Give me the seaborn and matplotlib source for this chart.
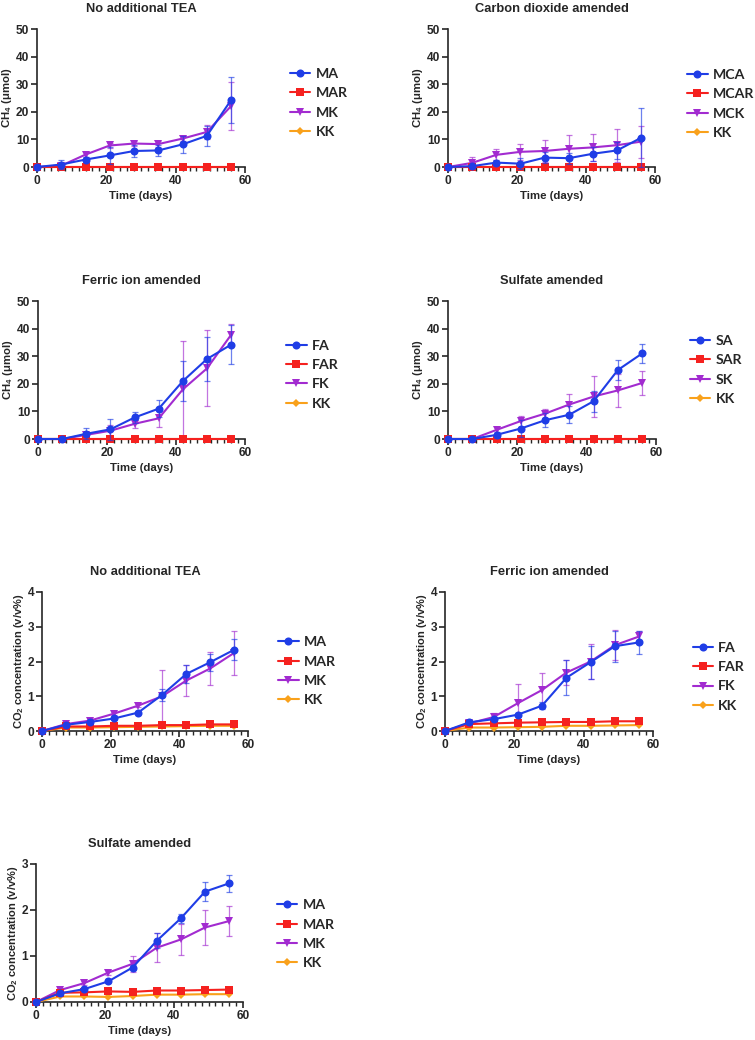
import numpy as np
import pandas as pd
import matplotlib
matplotlib.use("Agg")
import matplotlib.pyplot as plt
import seaborn as sns
from matplotlib.ticker import MultipleLocator
from matplotlib.font_manager import FontProperties

days = [0, 7, 14, 21, 28, 35, 42, 49, 56]

# CH4 (umol) - no additional TEA
ch4_none = {
    "MA": [0, 0.9, 2.7, 4.2, 5.8, 6.0, 8.2, 11.3, 24.3],
    "MAR": [0, 0, 0, 0, 0, 0, 0, 0, 0],
    "MK": [0, 0.5, 4.5, 7.8, 8.5, 8.3, 10.3, 12.7, 22.1],
    "KK": [0, 0, 0, 0, 0, 0, 0, 0, 0],
}
ch4_none_err = {
    "MA": [0, 1.5, 1.0, 3.0, 2.0, 2.0, 3.0, 3.6, 8.2],
    "MK": [0, 0.5, 1.0, 1.0, 1.0, 1.0, 1.0, 2.5, 8.7],
}

# CH4 - carbon dioxide amended
ch4_co2 = {
    "MCA": [0, 0.3, 1.6, 1.2, 3.4, 3.2, 4.8, 6.0, 10.6],
    "MCAR": [0, 0, 0, 0, 0, 0, 0, 0, 0],
    "MCK": [0, 1.5, 4.4, 5.5, 5.8, 6.6, 7.1, 7.9, 9.2],
    "KK": [0, 0, 0, 0, 0, 0, 0, 0, 0],
}
ch4_co2_err = {
    "MCA": [0, 0.5, 1.0, 2.0, 2.0, 2.0, 2.5, 3.0, 10.7],
    "MCK": [0, 2.3, 2.0, 2.9, 4.0, 5.0, 5.0, 6.0, 5.8],
}

# CH4 - ferric ion amended
ch4_fe = {
    "FA": [0, 0, 1.9, 3.5, 7.8, 11.0, 21.0, 29.0, 34.2],
    "FAR": [0, 0, 0, 0, 0, 0, 0, 0, 0],
    "FK": [0, 0, 1.5, 3.0, 5.5, 7.5, 18.0, 25.6, 37.8],
    "KK": [0, 0, 0, 0, 0, 0, 0, 0, 0],
}
ch4_fe_err = {
    "FA": [0, 0.3, 2.0, 3.8, 2.0, 3.2, 7.4, 8.0, 7.0],
    "FK": [0, 0.3, 1.0, 2.0, 1.5, 3.2, 17.4, 13.8, 3.8],
}

# CH4 - sulfate amended
ch4_so4 = {
    "SA": [0, 0, 1.5, 3.8, 6.8, 8.8, 13.7, 25.0, 31.0],
    "SAR": [0, 0, 0, 0, 0, 0, 0, 0, 0],
    "SK": [0, 0, 3.3, 6.5, 9.2, 12.5, 15.4, 17.6, 20.3],
    "KK": [0, 0, 0, 0, 0, 0, 0, 0, 0],
}
ch4_so4_err = {
    "SA": [0, 0.3, 1.0, 3.0, 2.5, 3.0, 3.8, 3.7, 3.3],
    "SK": [0, 0.3, 1.0, 2.0, 1.5, 3.9, 7.4, 6.0, 4.5],
}

# CO2 concentration (v/v%) - no additional TEA
co2_none = {
    "MA": [0, 0.18, 0.26, 0.36, 0.53, 1.04, 1.64, 1.98, 2.34],
    "MAR": [0, 0.13, 0.13, 0.15, 0.15, 0.17, 0.17, 0.19, 0.19],
    "MK": [0, 0.20, 0.30, 0.50, 0.73, 1.00, 1.45, 1.80, 2.25],
    "KK": [0, 0.10, 0.10, 0.11, 0.12, 0.13, 0.14, 0.15, 0.15],
}
co2_none_err = {
    "MA": [0, 0.03, 0.04, 0.05, 0.05, 0.18, 0.27, 0.25, 0.30],
    "MK": [0, 0.03, 0.05, 0.05, 0.05, 0.76, 0.44, 0.48, 0.64],
}

# CO2 - ferric ion amended
co2_fe = {
    "FA": [0, 0.25, 0.34, 0.47, 0.73, 1.53, 1.98, 2.44, 2.55],
    "FAR": [0, 0.20, 0.22, 0.24, 0.25, 0.26, 0.26, 0.28, 0.28],
    "FK": [0, 0.22, 0.40, 0.80, 1.18, 1.68, 2.00, 2.47, 2.72],
    "KK": [0, 0.10, 0.10, 0.11, 0.12, 0.15, 0.15, 0.16, 0.17],
}
co2_fe_err = {
    "FA": [0, 0.03, 0.05, 0.05, 0.10, 0.50, 0.47, 0.45, 0.33],
    "FK": [0, 0.03, 0.12, 0.55, 0.50, 0.35, 0.50, 0.43, 0.15],
}

# CO2 - sulfate amended
co2_so4 = {
    "MA": [0, 0.19, 0.28, 0.45, 0.75, 1.33, 1.82, 2.40, 2.58],
    "MAR": [0, 0.20, 0.21, 0.23, 0.22, 0.25, 0.25, 0.26, 0.27],
    "MK": [0, 0.26, 0.41, 0.64, 0.83, 1.18, 1.36, 1.62, 1.76],
    "KK": [0, 0.12, 0.12, 0.11, 0.13, 0.16, 0.16, 0.17, 0.17],
}
co2_so4_err = {
    "MA": [0, 0.03, 0.03, 0.04, 0.05, 0.16, 0.10, 0.21, 0.19],
    "MK": [0, 0.05, 0.05, 0.05, 0.17, 0.32, 0.33, 0.38, 0.33],
}

colors = ["#1f3de6", "#f5211f", "#a22bd0", "#f9a11b"]
markers = ["o", "s", "v", "D"]
msizes = [5.8, 5.4, 6.0, 3.6]

sns.set_style("ticks")
plt.rcParams["font.family"] = ["Liberation Sans", "DejaVu Sans"]
plt.rcParams["font.weight"] = "bold"
plt.rcParams["axes.labelweight"] = "bold"
plt.rcParams["axes.titleweight"] = "bold"
plt.rcParams["mathtext.fontset"] = "custom"
plt.rcParams["mathtext.rm"] = "Liberation Sans:bold"
plt.rcParams["mathtext.bf"] = "Liberation Sans:bold"
plt.rcParams["mathtext.default"] = "bf"

legend_font = FontProperties(family=["Lato", "DejaVu Sans"], weight="bold", size=10.2)

W, H = 755, 1040
fig = plt.figure(figsize=(W / 100, H / 100), dpi=100)


def px_axes(left, right, top, bottom):
    return fig.add_axes([left / W, 1 - bottom / H, (right - left) / W, (bottom - top) / H])


def draw_panel(ax, means, errs, title, ylabel, ylab_size, ymax, ystep, leg_x, leg_y):
    labels = list(means.keys())
    for i in reversed(range(len(labels))):
        lab = labels[i]
        df = pd.DataFrame({"day": days, "val": means[lab]})
        if lab in errs:
            ax.errorbar(days, means[lab], yerr=errs[lab], fmt="none", ecolor=colors[i],
                        alpha=0.65, capsize=2.5, elinewidth=0.9, capthick=0.9,
                        clip_on=False, zorder=2 + (3 - i))
        sns.lineplot(data=df, x="day", y="val", ax=ax, color=colors[i], marker=markers[i],
                     markersize=msizes[i], markeredgewidth=0, linewidth=1.5,
                     errorbar=None, label=lab, clip_on=False, zorder=3 + (3 - i))
    ax.set_xlim(0, 60)
    ax.set_ylim(0, ymax)
    ax.set_xticks([0, 20, 40, 60])
    ax.set_yticks(np.arange(0, ymax + 0.01, ystep))
    ax.xaxis.set_minor_locator(MultipleLocator(2))
    ax.tick_params(axis="both", which="major", length=4, width=1.2, labelsize=8.6, pad=1.5)
    ax.tick_params(axis="x", which="minor", length=3, width=1.0)
    for side in ["left", "bottom"]:
        ax.spines[side].set_linewidth(1.2)
    sns.despine(ax=ax)
    ax.set_title(title, fontsize=9.3, pad=12)
    ax.set_xlabel("Time (days)", fontsize=8.2, labelpad=3)
    ax.set_ylabel(ylabel, fontsize=ylab_size, labelpad=1.5)
    handles, labs = ax.get_legend_handles_labels()
    ax.legend(handles[::-1], labs[::-1], loc="center left", bbox_to_anchor=(leg_x, leg_y),
              frameon=False, prop=legend_font, handlelength=1.45, handletextpad=0.35,
              labelspacing=0.52, borderpad=0, borderaxespad=0)


ch4_label = "CH$_4$ (μmol)"
co2_label = "CO$_2$ concentration (v/v%)"

ax1 = px_axes(37, 245, 29, 167)
draw_panel(ax1, ch4_none, ch4_none_err, "No additional TEA", ch4_label, 8.2, 50, 10, 1.216, 0.464)

ax2 = px_axes(448, 655, 29, 167)
draw_panel(ax2, ch4_co2, ch4_co2_err, "Carbon dioxide amended", ch4_label, 8.2, 50, 10, 1.155, 0.457)

ax3 = px_axes(38, 245, 301, 439)
draw_panel(ax3, ch4_fe, ch4_fe_err, "Ferric ion amended", ch4_label, 8.2, 50, 10, 1.198, 0.467)

ax4 = px_axes(448, 656, 301, 439)
draw_panel(ax4, ch4_so4, ch4_so4_err, "Sulfate amended", ch4_label, 8.2, 50, 10, 1.163, 0.5)

ax5 = px_axes(42, 248, 592, 731)
draw_panel(ax5, co2_none, co2_none_err, "No additional TEA", co2_label, 8.0, 4, 1, 1.146, 0.43)

ax6 = px_axes(445, 653, 592, 731)
draw_panel(ax6, co2_fe, co2_fe_err, "Ferric ion amended", co2_label, 8.0, 4, 1, 1.19, 0.39)

ax7 = px_axes(36, 243, 864, 1002)
draw_panel(ax7, co2_so4, co2_so4_err, "Sulfate amended", co2_label, 8.0, 3, 1, 1.164, 0.49)

fig.savefig("out.png", dpi=100)
